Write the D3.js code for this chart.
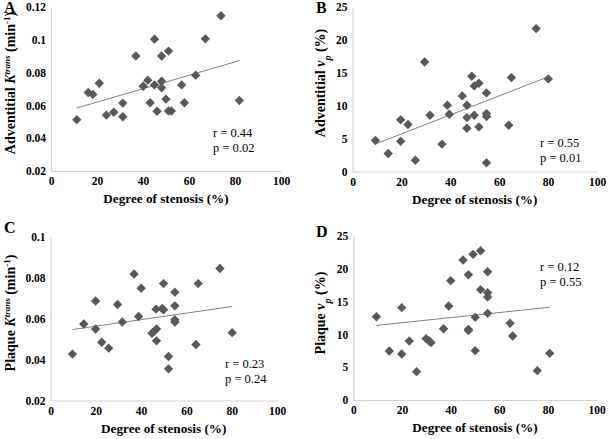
<!DOCTYPE html>
<html><head><meta charset="utf-8">
<script src="https://cdn.jsdelivr.net/npm/d3@7"></script>
<style>
html,body{margin:0;padding:0;background:#fff;}
svg{display:block;font-family:"Liberation Serif","Times New Roman",serif;}
</style></head>
<body><svg id="chart" width="609" height="439"></svg>
<script>
// ---- Data ----
const xTickLabels = ["0","20","40","60","80","100"];

const aTickLabels = ["0.02","0.04","0.06","0.08","0.1","0.12"];
const aX = [11.2,16.2,18.2,21,24.1,27.3,31.2,31.2,36.9,40.1,42.1,43.1,45,45,46.1,48.1,48.1,48.1,50,51.1,51.1,52.3,56.8,58,62.9,67.1,73.9,81.9];
const aY = [0.0513,0.0679,0.0667,0.0735,0.0541,0.0558,0.0614,0.0531,0.0901,0.0717,0.0754,0.0616,0.1004,0.0725,0.0564,0.0901,0.0747,0.0707,0.0638,0.0931,0.0566,0.0566,0.0725,0.0616,0.0784,0.1006,0.1147,0.063];
const aTrendX = [11.2,81.9];
const aTrendY = [0.0584,0.0873];

const bTickLabels = ["0","5","10","15","20","25"];
const bX = [9.4,14.6,19.7,19.7,22.7,25.7,29.5,31.7,36.6,38.8,39.6,44.9,46.8,46.8,46.8,48.8,49.8,49.8,51.7,51.7,54.8,54.8,54.8,54.8,63.9,65,75.1,80.1];
const bY = [4.72,2.74,7.86,4.61,7.15,1.72,16.68,8.57,4.16,10.09,8.72,11.51,10.09,8.21,6.59,14.5,13.03,8.57,13.44,6.79,11.97,8.82,8.37,1.32,7.05,14.3,21.76,14.1];
const bTrendX = [9.9,79.6];
const bTrendY = [4.26,14.35];

const cTickLabels = ["0.02","0.04","0.06","0.08","0.1"];
const cX = [9.7,14.7,19.9,19.9,22.6,25.7,29.6,31.7,36.9,38.9,40,44.8,45.7,46.6,46.8,46.8,49.3,49.9,49.9,52.1,52.1,54.9,54.9,54.9,54.9,64.2,65.2,74.8,80.2];
const cY = [0.0427,0.0574,0.0687,0.055,0.0485,0.0456,0.067,0.0584,0.0819,0.0611,0.0749,0.0529,0.0538,0.0647,0.055,0.0492,0.065,0.0772,0.0644,0.0415,0.0355,0.073,0.0663,0.0595,0.0584,0.0474,0.0772,0.0846,0.0532];
const cTrendX = [9.7,80.2];
const cTrendY = [0.0547,0.066];

const dTickLabels = ["0","5","10","15","20","25"];
const dX = [9.5,14.8,19.9,19.9,23,26,29.9,31.1,31.9,37.1,39.2,40,45.1,47.3,47.3,47.3,49.2,50.1,50.1,52.3,52.3,55.2,55.2,55.2,55.2,64.4,65.5,75.6,80.7];
const dY = [12.7,7.47,14.08,7.01,8.99,4.32,9.35,9.04,8.74,10.87,14.33,18.19,21.34,19.1,10.77,10.57,22.2,12.6,7.52,22.76,16.82,19.56,16.36,15.7,13.21,11.69,9.76,4.47,7.11];
const dTrendX = [9.5,80.7];
const dTrendY = [11.38,14.13];

const xTitle = "Degree of stenosis (%)";

// ---- Drawing ----
const svg = d3.select("#chart");
const FONT = '"Liberation Serif","Times New Roman",serif';

function panel(cfg){
  const g = svg.append("g");
  const x = d3.scaleLinear().domain([0,100]).range(cfg.xr);
  const yVals = cfg.yTicks.map(Number);
  const y = d3.scaleLinear().domain([yVals[0], yVals[yVals.length-1]]).range(cfg.yr);

  const xa = g.append("g").attr("transform",`translate(0,${cfg.yr[0]})`)
    .call(d3.axisBottom(x).tickValues(xTickLabels.map(Number)).tickFormat((d,i)=>xTickLabels[i]).tickSize(0).tickPadding(6));
  const ya = g.append("g").attr("transform",`translate(${cfg.xr[0]},0)`)
    .call(d3.axisLeft(y).tickValues(yVals).tickFormat((d,i)=>cfg.yTicks[i]).tickSize(0).tickPadding(5));
  [xa,ya].forEach(a=>{
    a.attr("font-family",FONT);
    a.select(".domain").attr("stroke","#d0d0d0").attr("stroke-width",1);
    a.selectAll("text").attr("font-family",FONT).attr("font-weight","bold").attr("font-size",11.5).attr("fill","#000");
  });

  // trend line
  const line = d3.line().x(d=>x(d[0])).y(d=>y(d[1]));
  g.append("path").datum(cfg.tx.map((v,i)=>[v,cfg.ty[i]]))
    .attr("d",line).attr("fill","none").attr("stroke","#808080").attr("stroke-width",1);

  // points
  const sym = d3.symbol(d3.symbolSquare, 44);
  g.selectAll("path.pt").data(cfg.px.map((v,i)=>[v,cfg.py[i]])).enter()
    .append("path").attr("class","pt").attr("d",sym)
    .attr("transform",d=>`translate(${x(d[0])},${y(d[1])}) rotate(45)`)
    .attr("fill","#595959");

  // panel letter
  g.append("text").attr("x",cfg.letterPos[0]).attr("y",cfg.letterPos[1])
    .attr("font-family",FONT).attr("font-weight","bold").attr("font-size",16).text(cfg.letter);

  // x title
  g.append("text").attr("x",(cfg.xr[0]+cfg.xr[1])/2).attr("y",cfg.yr[0]+32)
    .attr("text-anchor","middle").attr("font-family",FONT).attr("font-weight","bold").attr("font-size",13.2).text(xTitle);

  // y title
  const yt = g.append("text").attr("transform",`translate(${cfg.yTitleX},${cfg.yTitleY}) rotate(-90)`)
    .attr("text-anchor","middle").attr("font-family",FONT).attr("font-weight","bold").attr("font-size",14);
  cfg.yTitle.forEach(p=>{
    const t = yt.append("tspan").text(p.t);
    if(p.i) t.attr("font-style","italic");
    if(p.sup){ t.attr("baseline-shift","super").attr("font-size",9); }
    if(p.sub){ t.attr("baseline-shift","sub").attr("font-size",10); }
  });

  // stats
  cfg.stats.forEach((s,i)=>{
    g.append("text").attr("x",cfg.statPos[0]).attr("y",cfg.statPos[1]+i*14.5)
      .attr("font-family",FONT).attr("font-size",12.5).attr("fill","#000").text(s);
  });
}

panel({xr:[51,281], yr:[171,7], yTicks:aTickLabels, px:aX, py:aY, tx:aTrendX, ty:aTrendY,
  letter:"A", letterPos:[4,13], yTitleX:15, yTitleY:83,
  yTitle:[{t:"Adventitial "},{t:"K",i:1},{t:"trans",i:1,sup:1},{t:" (min"},{t:"-1",sup:1},{t:")"}],
  stats:["r = 0.44","p = 0.02"], statPos:[213,137]});

panel({xr:[352.5,597], yr:[171.5,7.3], yTicks:bTickLabels, px:bX, py:bY, tx:bTrendX, ty:bTrendY,
  letter:"B", letterPos:[316,13], yTitleX:325, yTitleY:83,
  yTitle:[{t:"Adventitial "},{t:"v",i:1},{t:"p",i:1,sub:1},{t:" (%)"}],
  stats:["r = 0.55","p = 0.01"], statPos:[540,147]});

panel({xr:[50.5,277], yr:[400.5,237], yTicks:cTickLabels, px:cX, py:cY, tx:cTrendX, ty:cTrendY,
  letter:"C", letterPos:[4,233], yTitleX:15, yTitleY:313,
  yTitle:[{t:"Plaque "},{t:"K",i:1},{t:"trans",i:1,sup:1},{t:" (min"},{t:"-1",sup:1},{t:")"}],
  stats:["r = 0.23","p = 0.24"], statPos:[225,368]});

panel({xr:[353.3,596.7], yr:[400,236], yTicks:dTickLabels, px:dX, py:dY, tx:dTrendX, ty:dTrendY,
  letter:"D", letterPos:[316,237], yTitleX:325, yTitleY:313,
  yTitle:[{t:"Plaque "},{t:"v",i:1},{t:"p",i:1,sub:1},{t:" (%)"}],
  stats:["r = 0.12","p = 0.55"], statPos:[540,271]});
</script></body></html>
